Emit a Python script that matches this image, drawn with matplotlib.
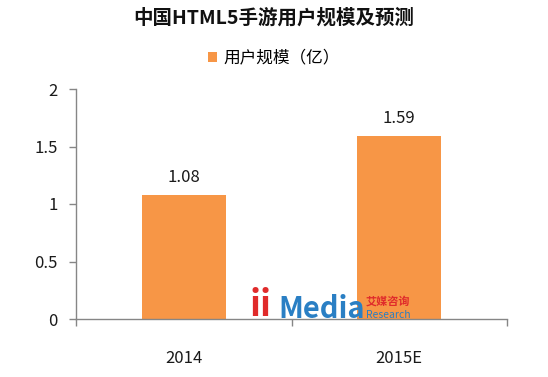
import matplotlib
matplotlib.use("Agg")
import matplotlib.pyplot as plt

plt.rcParams['font.family'] = ['Noto Sans CJK SC', 'DejaVu Sans']

categories = ["2014", "2015E"]
values = [1.08, 1.59]
value_labels = ["1.08", "1.59"]
series_name = "用户规模（亿）"
title = "中国HTML5手游用户规模及预测"
yticks = [0, 0.5, 1, 1.5, 2]
ytick_labels = ["0", "0.5", "1", "1.5", "2"]

fig = plt.figure(figsize=(5.48, 3.77), dpi=100)
ax = fig.add_axes([76/548, 1-319/377, (507-76)/548, (319-89)/377])

x = list(range(len(categories)))
bars = ax.bar(x, values, width=0.39, color="#F79646", zorder=2, label=series_name)
for xi, v, lab in zip(x, values, value_labels):
    ax.text(xi, v + 0.08, lab, ha="center", va="bottom", fontsize=12, color="#1a1a1a")

ax.set_xlim(-0.5, len(categories) - 0.5)
ax.set_ylim(0, 2)
ax.set_yticks(yticks)
ax.set_yticklabels(ytick_labels, fontsize=12, color="#1a1a1a")
ax.set_xticks(x)
ax.set_xticklabels(categories, fontsize=12, color="#1a1a1a")
ax.tick_params(axis="x", length=0, pad=22)
ax.tick_params(axis="y", length=5, color="#868686", width=1, pad=8)
# category boundary ticks
ax.set_xticks([-0.5, 0.5, 1.5], minor=True)
ax.tick_params(axis="x", which="minor", length=5, color="#868686", width=1)

for s in ["top", "right"]:
    ax.spines[s].set_visible(False)
for s in ["left", "bottom"]:
    ax.spines[s].set_color("#868686")
    ax.spines[s].set_linewidth(1)

fig.text(0.5, 1-18/377, title, ha="center", va="center", fontsize=14, fontweight="bold", color="#111111")

leg = fig.legend(handles=[bars], labels=[series_name], loc="center", bbox_to_anchor=(0.5, 1-58/377),
                 frameon=False, fontsize=12, handlelength=0.55, handleheight=0.55, handletextpad=0.4)

# watermark logo
fig.text(250/548, 1-305/377, "ii", ha="left", va="center", fontsize=26, fontweight="bold", color="#E02B2B", zorder=5)
fig.text(278/548, 1-309/377, "Media", ha="left", va="center", fontsize=21, fontweight="bold", color="#2A7FC4", zorder=5)
fig.text(366/548, 1-301/377, "艾媒咨询", ha="left", va="center", fontsize=8, fontweight="bold", color="#E02B2B", zorder=5)
fig.text(366/548, 1-315/377, "Research", ha="left", va="center", fontsize=7.5, style="italic", color="#2A7FC4", zorder=5)

fig.savefig("out.png", dpi=100)
